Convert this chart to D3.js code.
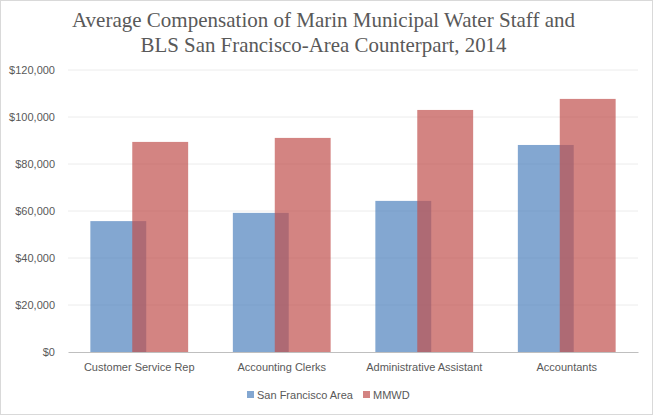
<!DOCTYPE html>
<html>
<head>
<meta charset="utf-8">
<script src="https://cdn.jsdelivr.net/npm/d3@7"></script>
<style>
  body { margin: 0; background: #fff; }
  svg text { fill: #595959; }
</style>
</head>
<body>
<div id="my_dataviz"></div>
<script>
// data
const categories = ["Customer Service Rep", "Accounting Clerks", "Administrative Assistant", "Accountants"];
const seriesNames = ["San Francisco Area", "MMWD"];
const sfArea = [55700, 59200, 64300, 88100];
const mmwd = [89400, 91100, 103000, 107700];
const yTicks = [0, 20000, 40000, 60000, 80000, 100000, 120000];
const titleLines = ["Average Compensation of Marin Municipal Water Staff and",
                    "BLS San Francisco-Area Counterpart, 2014"];

const W = 653, H = 415;
const margin = {top: 70, right: 15, bottom: 63, left: 68},
    width = W - margin.left - margin.right,
    height = H - margin.top - margin.bottom;

const labelFont = "'Liberation Sans', sans-serif";

const root = d3.select("#my_dataviz")
  .append("svg")
    .attr("width", W)
    .attr("height", H);

// outer chart border
root.append("rect")
  .attr("x", 0.5).attr("y", 0.5)
  .attr("width", W - 1).attr("height", H - 1)
  .attr("fill", "#fff")
  .attr("stroke", "#d9d9d9");

// title
root.selectAll("text.title")
  .data(titleLines)
  .join("text")
    .attr("class", "title")
    .attr("x", W / 2 - 3)
    .attr("y", (d, i) => 27 + i * 25)
    .attr("text-anchor", "middle")
    .attr("font-family", "'Liberation Serif', serif")
    .attr("font-size", "21px")
    .attr("textLength", (d, i) => i === 0 ? 503 : 366)
    .attr("lengthAdjust", "spacingAndGlyphs")
    .text(d => d);

const svg = root.append("g")
  .attr("transform", `translate(${margin.left},${margin.top})`);

const x = d3.scaleBand()
  .range([0, width])
  .domain(categories)
  .paddingInner(0)
  .paddingOuter(0);

const y = d3.scaleLinear()
  .domain([0, 120000])
  .range([height, 0]);

// bar geometry: 25% overlap, gap ~80%
const barW = x.bandwidth() / (1.75 + 0.8);
const step = barW * 0.75;
const groupW = barW + step;

// gridlines
svg.append("g")
  .selectAll("line")
  .data(yTicks.filter(d => d > 0))
  .join("line")
    .attr("x1", 0).attr("x2", width)
    .attr("y1", d => y(d)).attr("y2", d => y(d))
    .attr("stroke", "#ececec")
    .attr("stroke-width", 1);

// y axis labels
const yAxis = svg.append("g")
  .call(d3.axisLeft(y).tickValues(yTicks).tickSize(0).tickPadding(13)
    .tickFormat(d => "$" + d3.format(",")(d)));
yAxis.select(".domain").remove();
yAxis.selectAll("text")
  .attr("font-family", labelFont)
  .attr("font-size", "11px")
  .attr("fill", "#595959");

// bars
const allSeries = [sfArea, mmwd];
const colors = ["#4f81bd", "#c0504d"];
allSeries.forEach((vals, s) => {
  svg.append("g")
    .selectAll("rect")
    .data(vals)
    .join("rect")
      .attr("x", (d, i) => x(categories[i]) + (x.bandwidth() - groupW) / 2 + s * step)
      .attr("y", d => y(d))
      .attr("width", barW)
      .attr("height", d => height - y(d))
      .attr("fill", colors[s])
      .attr("fill-opacity", 0.7);
});

// x axis
const xAxis = svg.append("g")
  .attr("transform", `translate(0,${height})`)
  .call(d3.axisBottom(x).tickSize(0).tickPadding(11));
xAxis.select(".domain").attr("stroke", "#bfbfbf").attr("stroke-width", 1.2);
xAxis.selectAll("text")
  .attr("font-family", labelFont)
  .attr("font-size", "11px")
  .attr("fill", "#595959");

// legend
const legend = root.append("g").attr("transform", "translate(247,395)");
const legendX = [0, 116];
seriesNames.forEach((name, s) => {
  const g = legend.append("g").attr("transform", `translate(${legendX[s]},0)`);
  g.append("rect")
    .attr("x", 0).attr("y", -4)
    .attr("width", 7).attr("height", 7)
    .attr("fill", colors[s])
    .attr("fill-opacity", 0.7);
  g.append("text")
    .attr("x", 10).attr("y", 0)
    .attr("dy", "0.35em")
    .attr("font-family", labelFont)
    .attr("font-size", "11px")
    .text(name);
});
</script>
</body>
</html>
